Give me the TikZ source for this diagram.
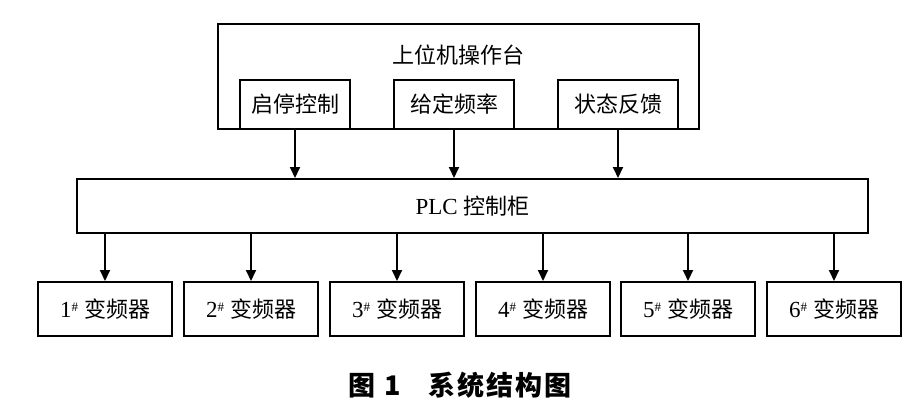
\documentclass[tikz,border=0pt]{standalone}
\usepackage{fontspec}
\setmainfont{Liberation Serif}
\newfontfamily\cjk{Noto Sans CJK SC}
\usetikzlibrary{arrows.meta}
\newcommand{\sharpsup}{\raisebox{0.6ex}{\fontsize{13}{13}\selectfont\#}}
\begin{document}
\begin{tikzpicture}[x=1pt,y=-1pt,
  box/.style={draw, line width=2pt, inner sep=0pt, fill=white},
  arr/.style={line width=2pt, -{Triangle[length=11pt,width=10pt]}},
  lbl/.style={font=\fontsize{22}{26}\selectfont},
  num/.style={font=\fontsize{23}{26}\selectfont},
  capt/.style={font=\fontsize{27}{30}\selectfont\cjk\bfseries}]
\useasboundingbox[fill=white] (0,0) rectangle (910,404);
% top console
\node[box, minimum width=481pt, minimum height=105pt] (top) at (458.5,76.5) {};
\node[lbl] (title) at (458,55) {\cjk 上位机操作台};
\node[box, lbl, minimum width=110pt, minimum height=49pt] (b1) at (295,104.5) {\cjk 启停控制};
\node[box, lbl, minimum width=120pt, minimum height=49pt] (b2) at (454,104.5) {\cjk 给定频率};
\node[box, lbl, minimum width=120pt, minimum height=49pt] (b3) at (618,104.5) {\cjk 状态反馈};
% PLC
\node[box, num, minimum width=791pt, minimum height=54pt] (plc) at (472.5,206) {PLC {\fontsize{22}{26}\selectfont\cjk 控制柜}};
\draw[arr] (b1.south) -- (b1.south |- plc.north);
\draw[arr] (b2.south) -- (b2.south |- plc.north);
\draw[arr] (b3.south) -- (b3.south |- plc.north);
% inverters
\foreach \i/\x in {1/105,2/251,3/397,4/543,5/688,6/834}{
  \node[box, num, minimum width=134pt, minimum height=54pt] (v\i) at (\x,309) {\i\sharpsup\hspace{6pt}{\fontsize{22}{26}\selectfont\cjk 变频器}};
  \draw[arr] (v\i.north |- plc.south) -- (v\i.north);
}
% caption
\node[capt] (cap) at (460,385) {图\hspace{9pt}1\hspace{28pt}系\hspace{2pt}统\hspace{2pt}结\hspace{2pt}构\hspace{2pt}图};
\end{tikzpicture}
\end{document}
